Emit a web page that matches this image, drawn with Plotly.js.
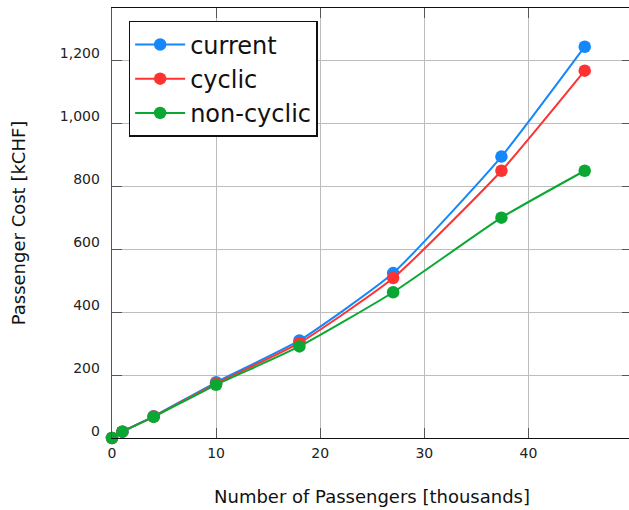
<!DOCTYPE html>
<html>
<head>
<meta charset="utf-8">
<script src="https://cdn.plot.ly/plotly-3.0.1.min.js"></script>
<style>
  html, body { margin: 0; padding: 0; overflow: hidden; background: #fff; }
  #chart { width: 633px; height: 510px; }
</style>
</head>
<body>
<div id="chart"></div>
<script>
// Passengers in thousands
const passengers = [0, 1, 4, 10, 18, 27, 37.4, 45.4];
// Passenger cost in kCHF for each timetable variant
const currentCost   = [0, 20, 69, 177, 310, 524, 894, 1243];
const cyclicCost    = [0, 20, 68, 173, 302, 508, 849, 1167];
const nonCyclicCost = [0, 20, 67, 169, 291, 463, 700, 849];

const seriesNames  = ['current', 'cyclic', 'non-cyclic'];
const seriesColors = ['#1487fa', '#ff3232', '#0aa832'];
const seriesValues = [currentCost, cyclicCost, nonCyclicCost];

const xTicks = [0, 10, 20, 30, 40];
const yTicks = [0, 200, 400, 600, 800, 1000, 1200];

const font = 'DejaVu Sans, sans-serif';

const traces = seriesValues.map((vals, i) => ({
  x: passengers,
  y: vals,
  name: seriesNames[i],
  type: 'scatter',
  mode: 'lines+markers',
  line: { color: seriesColors[i], width: 2, shape: 'spline', smoothing: 0.5 },
  marker: { color: seriesColors[i], size: 12.5 },
  cliponaxis: false
}));

const layout = {
  width: 633,
  height: 510,
  margin: { l: 112, r: 1, t: 8, b: 72 },
  paper_bgcolor: '#fff',
  plot_bgcolor: '#fff',
  font: { family: font, color: '#222', size: 14 },
  showlegend: true,
  legend: {
    x: 0.032, y: 0.97, xanchor: 'left', yanchor: 'top',
    bgcolor: '#fff', bordercolor: '#111', borderwidth: 1.5,
    itemwidth: 50,
    font: { family: font, size: 24, color: '#111' }
  },
  xaxis: {
    range: [0, 49.94],
    tickvals: xTicks,
    ticks: 'inside', ticklen: 10, tickcolor: '#555', tickwidth: 1,
    showline: true, linecolor: '#111', linewidth: 1.3, mirror: 'ticks',
    showgrid: true, gridcolor: '#bdbdbd', gridwidth: 1,
    zeroline: false,
    ticklabelstandoff: 2,
    tickfont: { family: font, size: 14, color: '#222' },
    title: { text: 'Number of Passengers [thousands]', standoff: 30,
             font: { family: font, size: 18, color: '#111' } }
  },
  yaxis: {
    range: [0, 1366],
    tickvals: yTicks,
    tickformat: ',',
    ticks: 'inside', ticklen: 10, tickcolor: '#555', tickwidth: 1,
    showline: true, linecolor: '#555', linewidth: 1.3, mirror: 'ticks',
    showgrid: true, gridcolor: '#bdbdbd', gridwidth: 1,
    zeroline: false,
    ticklabelshift: -7,
    ticklabelstandoff: 8,
    tickfont: { family: font, size: 14, color: '#222' },
    title: { text: 'Passenger Cost [kCHF]', standoff: 29,
             font: { family: font, size: 18, color: '#111' } }
  }
};

Plotly.newPlot('chart', traces, layout, { displayModeBar: false, staticPlot: true });
</script>
</body>
</html>
